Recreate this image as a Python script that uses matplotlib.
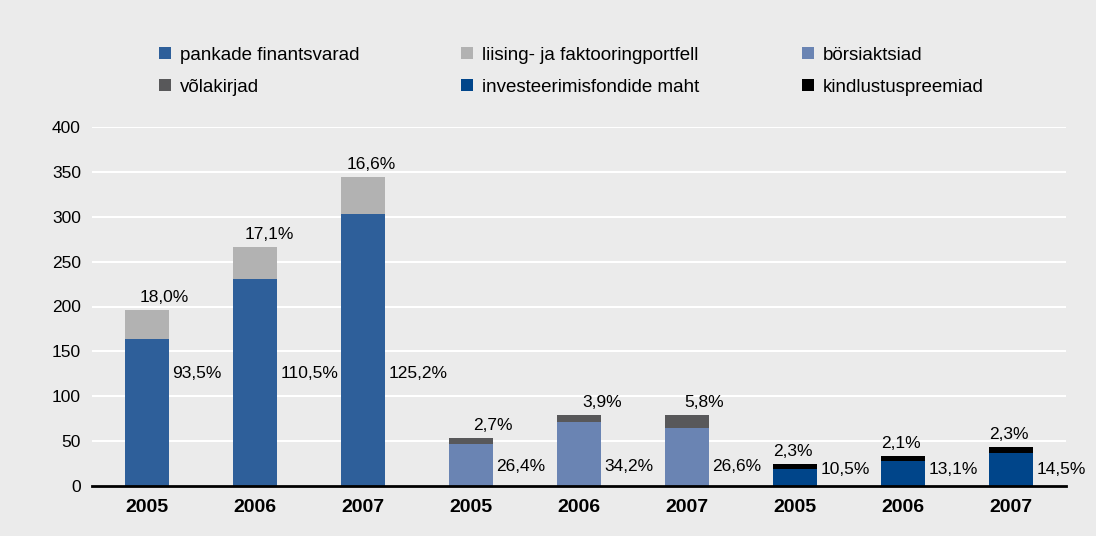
import matplotlib.pyplot as plt
from matplotlib.patches import Patch

plt.rcParams['font.family'] = ['Liberation Sans', 'DejaVu Sans']

years = ['2005', '2006', '2007']

# väärtused loetud jooniselt
bank_assets = [164, 231, 303]
leasing = [32, 35, 41]
stocks = [47, 71, 65]
bonds = [6, 8, 14]
funds = [19, 28, 37]
insurance = [5, 5, 6]

top_labels = ['18,0%', '17,1%', '16,6%', '2,7%', '3,9%', '5,8%', '2,3%', '2,1%', '2,3%']
side_labels = ['93,5%', '110,5%', '125,2%', '26,4%', '34,2%', '26,6%', '10,5%', '13,1%', '14,5%']

c_bank = '#2e5f9a'
c_leas = '#b2b2b2'
c_stock = '#6a84b3'
c_bond = '#58585a'
c_fund = '#00458a'
c_ins = '#000000'
bg = '#ebebeb'

fig = plt.figure(figsize=(10.96, 5.36), dpi=100, facecolor=bg)
ax = fig.add_axes([92 / 1096, 50 / 536, (1066 - 92) / 1096, 359 / 536])
ax.set_facecolor(bg)

w = 0.41
x1 = [0, 1, 2]
x2 = [3, 4, 5]
x3 = [6, 7, 8]

ax.bar(x1, bank_assets, w, color=c_bank, zorder=3)
ax.bar(x1, leasing, w, bottom=bank_assets, color=c_leas, zorder=3)
ax.bar(x2, stocks, w, color=c_stock, zorder=3)
ax.bar(x2, bonds, w, bottom=stocks, color=c_bond, zorder=3)
ax.bar(x3, funds, w, color=c_fund, zorder=3)
ax.bar(x3, insurance, w, bottom=funds, color=c_ins, zorder=3)

totals = [a + b for a, b in zip(bank_assets, leasing)] + \
         [a + b for a, b in zip(stocks, bonds)] + \
         [a + b for a, b in zip(funds, insurance)]
xs = x1 + x2 + x3
top_dx = [0.16, 0.13, 0.08, 0.2, 0.21, 0.16, -0.02, -0.02, -0.02]
side_y = [125, 125, 125, 22, 22, 22, 18, 18, 18]

for i, x in enumerate(xs):
    ax.annotate(top_labels[i], (x + top_dx[i], totals[i]), xytext=(0, 4),
                textcoords='offset points', ha='center', va='bottom', fontsize=12.5)
    ax.text(x + w / 2 + 0.03, side_y[i], side_labels[i], ha='left', va='center', fontsize=12.5)

ax.set_xlim(-0.51, 8.51)
ax.set_ylim(0, 400)
ax.set_yticks(range(0, 401, 50))
ax.set_xticks(xs)
ax.set_xticklabels(years * 3)
ax.tick_params(axis='both', length=0, labelsize=12.5)
ax.tick_params(axis='x', pad=9)
ax.tick_params(axis='y', pad=8)
for lab in ax.get_xticklabels():
    lab.set_fontsize(14)
    lab.set_fontweight('bold')
ax.grid(axis='y', color='white', linewidth=1.5, zorder=0)
for s in ['top', 'right', 'left']:
    ax.spines[s].set_visible(False)
ax.spines['bottom'].set_color('black')
ax.spines['bottom'].set_linewidth(2)
ax.spines['bottom'].set_zorder(4)

legend_cols = [
    ([('pankade finantsvarad', c_bank), ('võlakirjad', c_bond)], 159),
    ([('liising- ja faktooringportfell', c_leas), ('investeerimisfondide maht', c_fund)], 461),
    ([('börsiaktsiad', c_stock), ('kindlustuspreemiad', c_ins)], 802),
]
for entries, px in legend_cols:
    handles = [Patch(facecolor=c, edgecolor='none') for _, c in entries]
    names = [n for n, _ in entries]
    fig.legend(handles, names, loc='upper left', bbox_to_anchor=(px / 1096, 1 - 47 / 536),
               frameon=False, fontsize=13.5, handlelength=0.66, handleheight=0.6,
               handletextpad=0.45, labelspacing=0.78, borderpad=0, borderaxespad=0)

fig.savefig('out.png', dpi=100, facecolor=bg)
